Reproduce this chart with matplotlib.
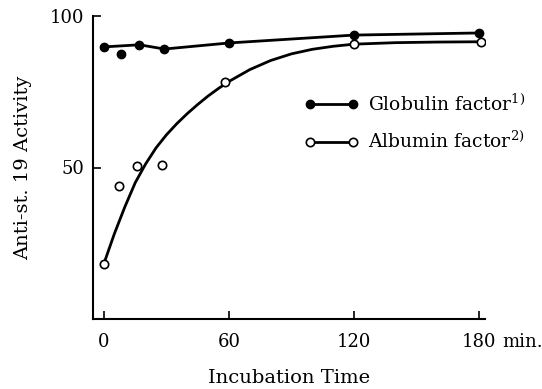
import matplotlib
matplotlib.use("Agg")
import matplotlib.pyplot as plt
from matplotlib.lines import Line2D

plt.rcParams['font.family'] = ['DejaVu Serif']
plt.rcParams['mathtext.fontset'] = 'dejavuserif'

# Globulin factor (filled circles)
glob_t = [0, 8, 17, 29, 60, 120, 180]
glob_v = [89.8, 87.5, 90.5, 89.1, 91.1, 93.7, 94.4]

# Albumin factor (open circles)
alb_t = [0, 7, 16, 28, 58, 120, 181]
alb_v = [18.0, 43.8, 50.4, 50.7, 78.3, 90.8, 91.4]

# Hand-drawn smooth curve through albumin data
curve_t = [0, 5, 10, 15, 20, 25, 30, 35, 40, 45, 50, 55, 60, 70, 80, 90, 100, 110, 120, 140, 160, 181]
curve_v = [18.4, 28.2, 37.0, 45.0, 51.2, 56.5, 60.8, 64.5, 67.8, 70.8, 73.6, 76.1, 78.4, 82.3, 85.3, 87.5, 89.0, 90.0, 90.7, 91.2, 91.4, 91.5]

xticks = [0, 60, 120, 180]
yticks = [50, 100]

fig = plt.figure(figsize=(5.42, 3.89), dpi=100)
ax = fig.add_axes([93/542, 1-319/389, (485-93)/542, (319-16)/389])

# globulin line skips the second (low) point
line_idx = [0, 2, 3, 4, 5, 6]
ax.plot([glob_t[i] for i in line_idx], [glob_v[i] for i in line_idx], color='black', lw=2.0, zorder=2)
ax.plot(glob_t, glob_v, 'o', color='black', ms=6, mec='black', zorder=3)

ax.plot(curve_t, curve_v, color='black', lw=2.0, zorder=2)
ax.plot(alb_t, alb_v, 'o', mfc='white', mec='black', mew=1.2, ms=6, zorder=3)

ax.set_xlim(-5.3, 183)
ax.set_ylim(0, 100)
ax.set_xticks(xticks)
ax.set_yticks(yticks)
ax.tick_params(direction='in', length=6, width=1.2, labelsize=13)
ax.tick_params(axis='x', pad=10)
ax.tick_params(axis='y', pad=6)
for s in ['top', 'right']:
    ax.spines[s].set_visible(False)
for s in ['left', 'bottom']:
    ax.spines[s].set_linewidth(1.5)

ax.annotate('min.', xy=(180, 0), xycoords=('data', 'axes fraction'),
            xytext=(17, -10), textcoords='offset points', ha='left', va='top', fontsize=13)

ax.set_xlabel('Incubation Time', fontsize=14, labelpad=13)
ax.set_ylabel('Anti-st. 19 Activity', fontsize=14, labelpad=13)

h1 = Line2D([], [], color='black', lw=2.0, marker='o', ms=6, mfc='black', mec='black')
h2 = Line2D([], [], color='black', lw=2.0, marker='o', ms=6, mfc='white', mec='black', mew=1.2)
leg = ax.legend([h1, h2], ['Globulin factor$^{1)}$', 'Albumin factor$^{2)}$'],
                loc='upper left', bbox_to_anchor=(0.497, 0.80), frameon=False,
                fontsize=13.5, handlelength=2.9, handletextpad=0.45, labelspacing=0.85,
                numpoints=2)

fig.savefig('out.png', dpi=100)
